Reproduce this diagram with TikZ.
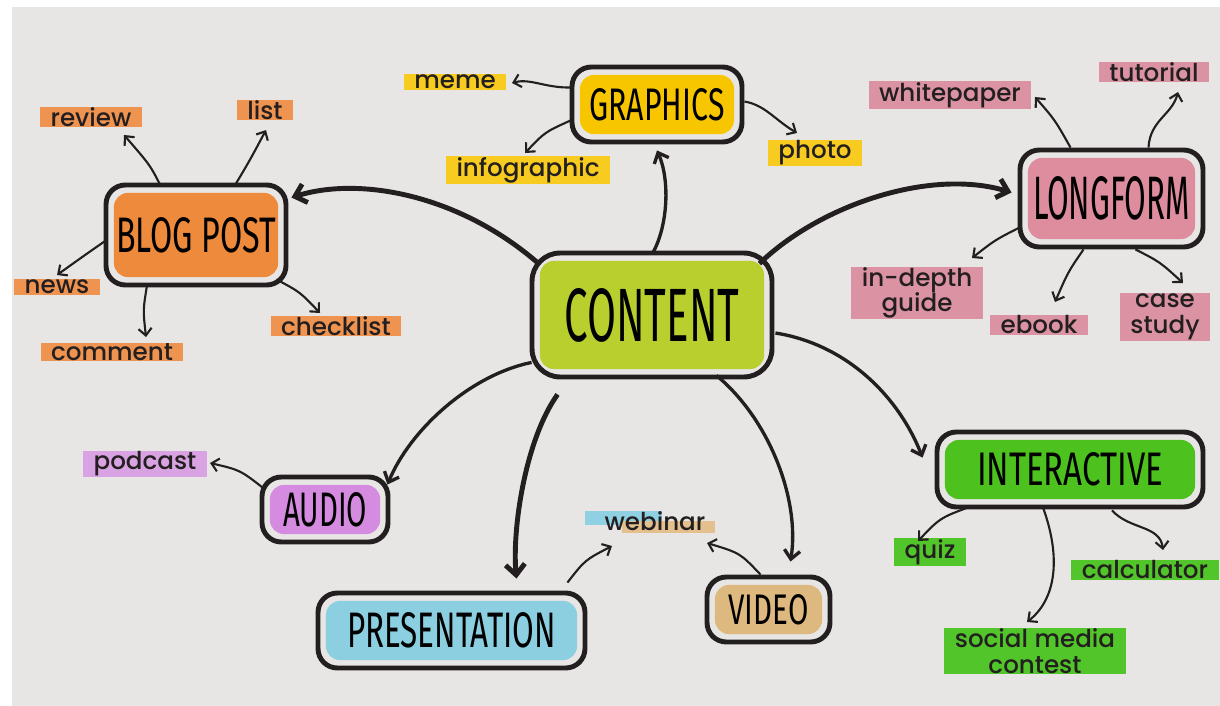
\documentclass[tikz,border=0pt]{standalone}
\usepackage{fontspec}
\usepackage{graphicx}
\setmainfont{Poppins}[UprightFont={* Medium}]
\newfontfamily\titlefont{Fira Sans}
\usetikzlibrary{arrows.meta,calc}
\definecolor{bg}{HTML}{E8E5E5}
\definecolor{ink}{HTML}{231F20}
\definecolor{cgreen}{HTML}{B9CF2E}
\definecolor{cyellow}{HTML}{F7C600}
\definecolor{corange}{HTML}{EE8A3C}
\definecolor{cpink}{HTML}{DE8D9E}
\definecolor{cgreen2}{HTML}{4DC21F}
\definecolor{cpurple}{HTML}{D58BE0}
\definecolor{cblue}{HTML}{8BCFE0}
\definecolor{ctan}{HTML}{DEB97F}
\definecolor{horange}{HTML}{EF9450}
\definecolor{hyellow}{HTML}{F8CB20}
\definecolor{hpink}{HTML}{DB93A3}
\definecolor{hpurple}{HTML}{D9A2E2}
\definecolor{hgreen}{HTML}{52C52A}
\definecolor{hblue}{HTML}{8FD0E3}
\definecolor{htan}{HTML}{E3C08E}
\newcommand{\bt}[3]{\resizebox{#1}{#2}{\titlefont #3}}
\begin{document}
\begin{tikzpicture}[x=0.02cm,y=-0.02cm,
  mbox/.style={draw=ink, line width=2.8pt, rounded corners=11pt, inner sep=0pt, fill=bg,
    path picture={\fill[#1, rounded corners=8pt] ([shift={(4.5pt,-4.5pt)}]path picture bounding box.north west) rectangle ([shift={(-4.5pt,4.5pt)}]path picture bounding box.south east);}},
  lab/.style={font=\fontsize{14}{14.5}\selectfont, text=ink, inner xsep=6pt, inner ysep=0.5pt, fill=#1, align=center},
  marrow/.style={draw=ink, line width=2.8pt, -{Straight Barb[length=6pt,width=11pt]}},
  narrow/.style={draw=ink, line width=1.9pt, -{Straight Barb[length=5pt,width=9pt]}},
  sarrow/.style={draw=ink, line width=1.2pt, -{Straight Barb[length=4pt,width=7.5pt]}}]
\useasboundingbox (0,0) rectangle (1220,706);
\fill[white] (0,0) rectangle (1220,706);
\fill[bg] (12,7) rectangle (1220,706);

% main boxes
\node[mbox=cgreen, rounded corners=16pt, minimum width=4.8cm, minimum height=2.48cm] (content) at (652,315) {\bt{3.5cm}{1.06cm}{CONTENT}};
\node[mbox=cyellow, minimum width=3.4cm, minimum height=1.5cm] (graphics) at (657,104.5) {\bt{2.7cm}{0.64cm}{GRAPHICS}};
\node[mbox=corange, minimum width=3.6cm, minimum height=2.0cm] (blog) at (196,235) {\bt{3.2cm}{0.7cm}{BLOG POST}};
\node[mbox=cpink, minimum width=3.66cm, minimum height=1.94cm] (longform) at (1111.5,198.5) {\bt{3.14cm}{0.86cm}{LONGFORM}};
\node[mbox=cgreen2, minimum width=5.32cm, minimum height=1.5cm] (interactive) at (1070,469.5) {\bt{3.72cm}{0.66cm}{INTERACTIVE}};
\node[mbox=cpurple, minimum width=2.52cm, minimum height=1.3cm] (audio) at (325,509.5) {\bt{1.68cm}{0.68cm}{AUDIO}};
\node[mbox=cblue, minimum width=5.34cm, minimum height=1.5cm] (presentation) at (451.5,630.5) {\bt{4.18cm}{0.7cm}{PRESENTATION}};
\node[mbox=ctan, minimum width=2.46cm, minimum height=1.3cm] (video) at (768.5,609.5) {\bt{1.6cm}{0.6cm}{VIDEO}};

% labels
\node[lab=horange] (review) at (91,117) {review};
\node[lab=horange] (list) at (265,110) {list};
\node[lab=horange] (news) at (57,287) {news};
\node[lab=horange] (comment) at (112,352) {comment};
\node[lab=horange] (checklist) at (336,326) {checklist};
\node[lab=hyellow] (meme) at (455,82) {meme};
\node[lab=hyellow] (infographic) at (528,170) {infographic};
\node[lab=hyellow] (photo) at (815,153) {photo};
\node[lab=hpink] (whitepaper) at (950,95) {whitepaper};
\node[lab=hpink] (tutorial) at (1154,72) {tutorial};
\node[lab=hpink] (indepth) at (917,293) {in-depth\\guide};
\node[lab=hpink] (ebook) at (1039,325) {ebook};
\node[lab=hpink] (casestudy) at (1165,317) {case\\study};
\node[lab=hpurple] (podcast) at (145,464) {podcast};
\fill[hblue] (585,511) rectangle (662,525);
\fill[htan] (622,521) rectangle (715,533);
\node[lab=none, fill=none] (webinar) at (655,521) {webinar};
\node[lab=hgreen] (quiz) at (930,552) {quiz};
\node[lab=hgreen] (calculator) at (1145,570) {calculator};
\node[lab=hgreen] (social) at (1035,651) {social media\\contest};

% main connectors
\draw[marrow] ($(content.north west)+(9,13)$) .. controls (460,195) and (360,176) .. ($(blog.north east)+(3,15)$);
\draw[narrow] ($(content.north)+(1,2)$) .. controls (668,225) and (670,180) .. ($(graphics.south)+(0,6)$);
\draw[marrow] ($(content.north east)+(-15,13)$) .. controls (820,205) and (930,168) .. ($(longform.west)+(-6,-6)$);
\draw[narrow] ($(content.east)+(1,18)$) .. controls (850,345) and (900,400) .. ($(interactive.north west)+(-12,28)$);
\draw[narrow] ($(content.south west)+(2,-17)$) .. controls (470,375) and (410,430) .. ($(audio.north east)+(-3,10)$);
\draw[marrow] ($(content.south west)+(28,15)$) .. controls (525,440) and (512,530) .. ($(presentation.north)+(65,-12)$);
\draw[narrow] ($(content.south east)+(-58,-4)$) .. controls (770,420) and (800,500) .. ($(video.north)+(22,-13)$);

% blog post
\draw[sarrow] ($(blog.north)+(-36,2)$) .. controls (150,165) .. ($(review)+(33,18)$);
\draw[sarrow] ($(blog.north)+(40,1)$) .. controls (250,160) .. ($(list)+(1,20)$);
\draw[sarrow] ($(blog.west)+(3,5)$) .. controls (85,255) .. ($(news)+(0,-12)$);
\draw[sarrow] ($(blog.south)+(-49,-2)$) .. controls (143,310) .. ($(comment)+(34,-15)$);
\draw[sarrow] ($(blog.south east)+(-12,-8)$) .. controls (300,292) .. ($(checklist)+(-16,-13)$);
% graphics
\draw[sarrow] ($(graphics.west)+(1,-17)$) .. controls (545,88) and (530,78) .. ($(meme)+(57,1)$);
\draw[sarrow] ($(graphics.west)+(1,16)$) .. controls (545,132) .. ($(infographic)+(-3,-17)$);
\draw[sarrow] ($(graphics.east)+(0,-3)$) .. controls (765,105) and (775,120) .. ($(photo)+(-18,-20)$);
% longform
\draw[sarrow] ($(longform.north)+(-41,0)$) .. controls (1055,120) .. ($(whitepaper)+(85,2)$);
\draw[sarrow] ($(longform.north)+(37,0)$) .. controls (1150,120) and (1172,115) .. ($(tutorial)+(24,20)$);
\draw[sarrow] ($(longform.west)+(2,29)$) .. controls (995,240) .. ($(indepth)+(55,-35)$);
\draw[sarrow] ($(longform.south)+(-28,0)$) .. controls (1068,272) .. ($(ebook)+(16,-23)$);
\draw[sarrow] ($(longform.south)+(24,0)$) .. controls (1160,262) .. ($(casestudy)+(18,-34)$);
% interactive
\draw[sarrow] ($(interactive.south)+(-102,-2)$) .. controls (940,518) .. ($(quiz)+(-12,-11)$);
\draw[sarrow] ($(interactive.south)+(-27,-2)$) .. controls (1062,560) and (1055,600) .. ($(social)+(-8,-29)$);
\draw[sarrow] ($(interactive.south)+(42,1)$) .. controls (1130,530) and (1160,525) .. ($(calculator)+(18,-20)$);
% audio, presentation, video
\draw[sarrow] ($(audio.west)+(3,-22)$) .. controls (240,470) .. ($(podcast)+(65,-1)$);
\draw[sarrow] ($(presentation.north east)+(-20,-8)$) .. controls (585,560) .. ($(webinar)+(-43,25)$);
\draw[sarrow] ($(video.north)+(-8,0)$) .. controls (740,553) .. ($(webinar)+(52,22)$);
\end{tikzpicture}
\end{document}
